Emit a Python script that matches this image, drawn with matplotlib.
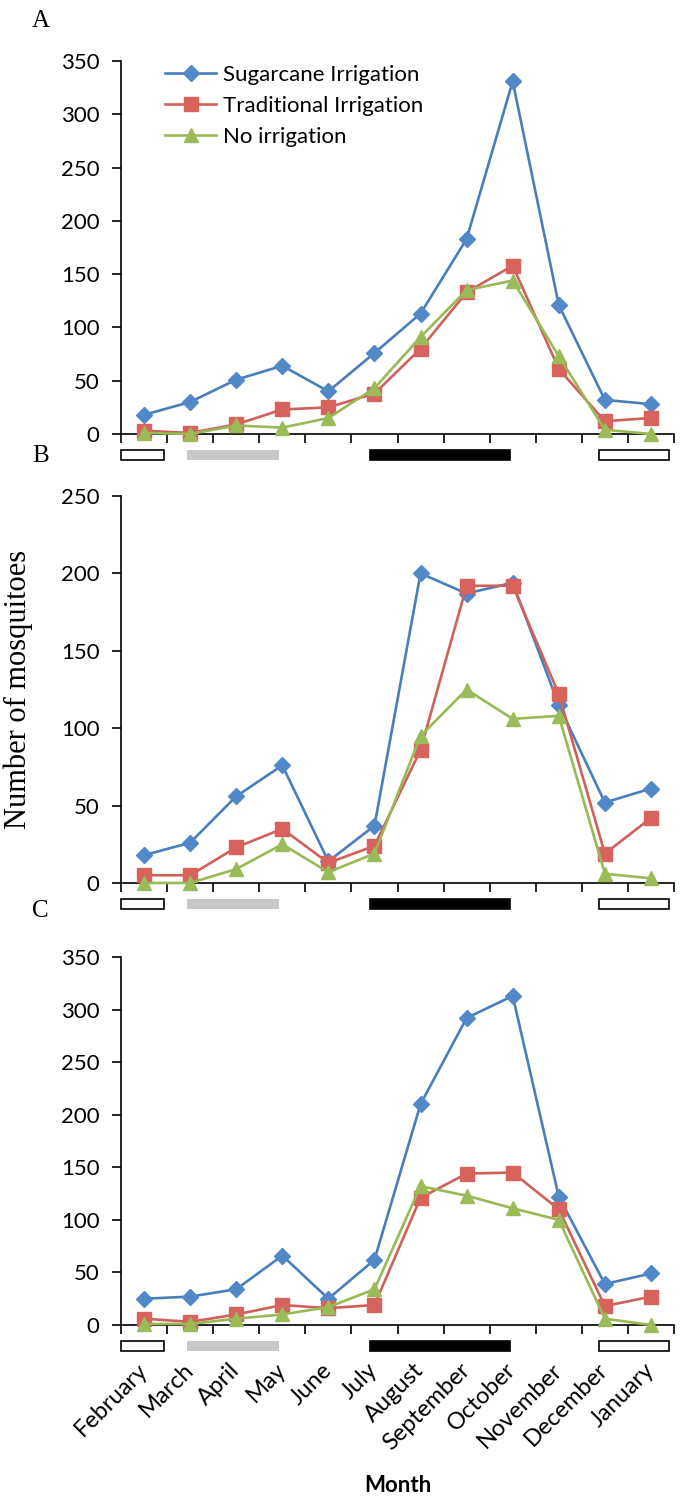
import numpy as np
import matplotlib
matplotlib.use("Agg")
import matplotlib.pyplot as plt
from matplotlib.patches import Rectangle
import matplotlib.transforms as mtransforms

plt.rcParams['font.family'] = ['Lato', 'DejaVu Sans']

months = ['February', 'March', 'April', 'May', 'June', 'July', 'August',
          'September', 'October', 'November', 'December', 'January']
series_names = ['Sugarcane Irrigation', 'Traditional Irrigation', 'No irrigation']

# panel A
a_sugar = [18, 30, 51, 64, 40, 76, 113, 183, 331, 121, 32, 28]
a_trad = [3, 1, 9, 23, 25, 38, 80, 133, 158, 61, 12, 15]
a_none = [1, 0, 8, 6, 15, 43, 91, 135, 144, 73, 4, 0]
# panel B
b_sugar = [18, 26, 56, 76, 14, 37, 200, 187, 194, 115, 52, 61]
b_trad = [5, 5, 23, 35, 13, 24, 86, 192, 192, 122, 19, 42]
b_none = [0, 0, 9, 25, 7, 19, 95, 125, 106, 108, 6, 3]
# panel C
c_sugar = [25, 27, 34, 66, 25, 62, 210, 292, 313, 122, 39, 49]
c_trad = [6, 3, 10, 19, 16, 19, 121, 144, 145, 110, 18, 27]
c_none = [1, 1, 6, 10, 17, 34, 132, 123, 111, 100, 6, 0]

panels = [('A', [a_sugar, a_trad, a_none], 350),
          ('B', [b_sugar, b_trad, b_none], 250),
          ('C', [c_sugar, c_trad, c_none], 350)]

# season bars under the axis: (start, end, face, edge) in month index units
season_start = [-0.5, 0.93, 4.9, 9.87]
season_end = [0.43, 2.93, 7.95, 11.4]
season_face = ['white', '#C8C8C8', 'black', 'white']
season_edge = ['black', 'none', 'black', 'black']

line_cols = ['#4A7EBB', '#D0605A', '#98B954']
marker_cols = ['#5088C8', '#D8625C', '#9BBB59']
markers = ['D', 's', '^']
msizes = [8, 10.5, 10.5]

W, H = 685, 1506
fig = plt.figure(figsize=(W / 100, H / 100), dpi=100)

# axes boxes in pixels: (top, bottom)
boxes = [(61, 434), (496, 883), (957, 1325)]
left_px, right_px = 121, 674
label_y = [21, 456, 911]

x = np.arange(len(months))
for k, (lab, data, ymax) in enumerate(panels):
    top, bot = boxes[k]
    ax = fig.add_axes([left_px / W, 1 - bot / H, (right_px - left_px) / W, (bot - top) / H])
    for i, vals in enumerate(data):
        ax.plot(x, vals, color=line_cols[i], lw=1.9, marker=markers[i],
                ms=msizes[i], mfc=marker_cols[i], mec=marker_cols[i],
                label=series_names[i], clip_on=False, zorder=3 + i)
    ax.set_xlim(-0.5, 11.5)
    ax.set_ylim(0, ymax)
    ax.set_yticks(np.arange(0, ymax + 1, 50))
    ax.set_xticks(np.arange(-0.5, 12, 1))
    ax.set_xticklabels([])
    for s in ['top', 'right']:
        ax.spines[s].set_visible(False)
    for s in ['left', 'bottom']:
        ax.spines[s].set_linewidth(1.2)
    ax.tick_params(which='major', direction='out', length=6.5, width=1.2,
                   labelsize=16, pad=9)

    # season bars
    hpx = bot - top
    y0 = -26.0 / hpx
    bh = 10.0 / hpx
    trans = mtransforms.blended_transform_factory(ax.transData, ax.transAxes)
    for s0, s1, fc, ec in zip(season_start, season_end, season_face, season_edge):
        ax.add_patch(Rectangle((s0, y0), s1 - s0, bh, transform=trans,
                               facecolor=fc, edgecolor=ec, lw=1.2, clip_on=False))

    fig.text(32 / W, 1 - label_y[k] / H, lab, family='Liberation Serif',
             fontsize=18, ha='left', va='center')

    if k == 0:
        ax.legend(loc='upper left', bbox_to_anchor=(0.08, 0.99), frameon=False,
                  fontsize=16, handlelength=2.3, handletextpad=0.3,
                  labelspacing=0.5, borderpad=0, borderaxespad=0, numpoints=1)
    if k == 2:
        ax.set_xticks(x, minor=True)
        ax.set_xticklabels(months, minor=True, rotation=45, ha='right',
                           va='center', rotation_mode='anchor', fontsize=17)
        ax.tick_params(which='minor', length=0, pad=30)

fig.text(18 / W, 1 - 689 / H, 'Number of mosquitoes', family='Liberation Serif',
         fontsize=22, rotation=90, ha='center', va='center')
fig.text(398 / W, 1 - 1486 / H, 'Month', fontsize=16, fontweight='bold',
         ha='center', va='center')

fig.savefig('out.png', dpi=100)
